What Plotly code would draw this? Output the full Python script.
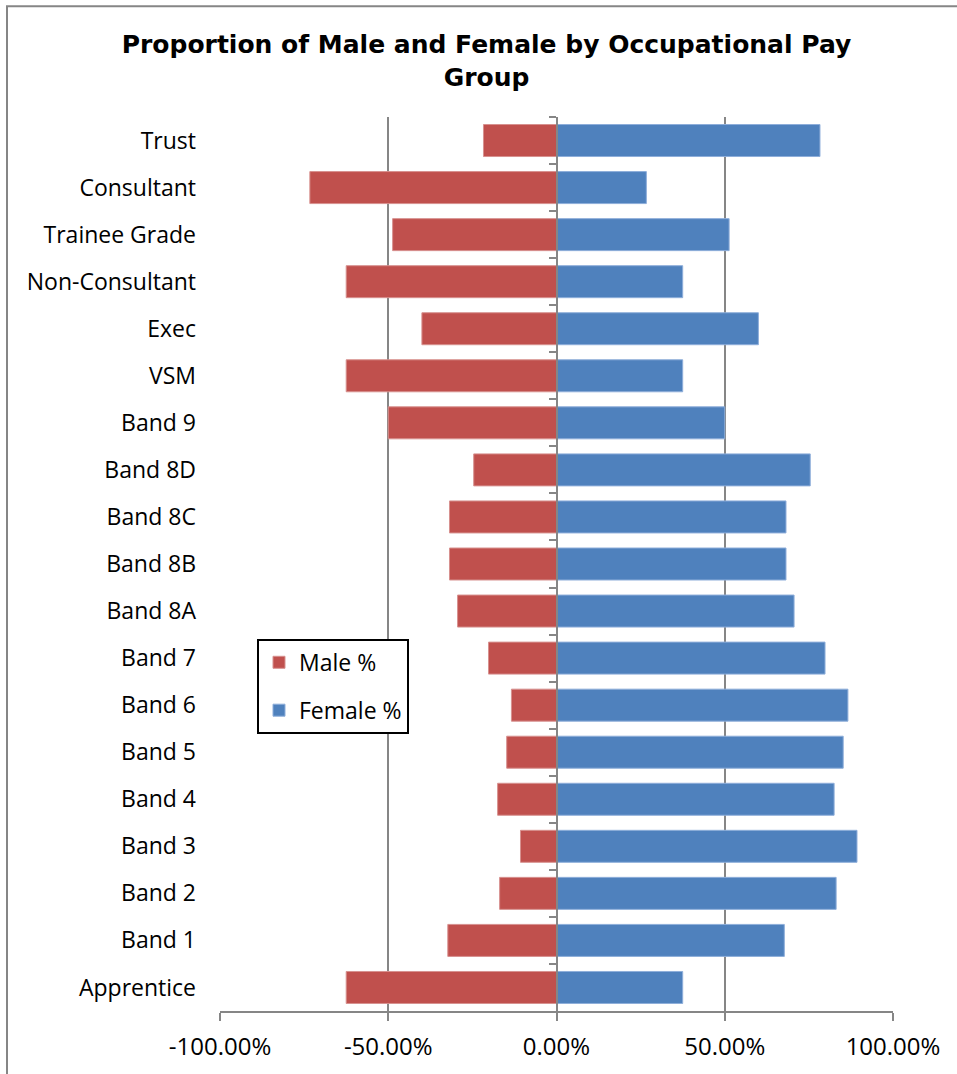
import plotly.graph_objects as go

categories = ["Trust", "Consultant", "Trainee Grade", "Non-Consultant", "Exec", "VSM",
              "Band 9", "Band 8D", "Band 8C", "Band 8B", "Band 8A", "Band 7", "Band 6",
              "Band 5", "Band 4", "Band 3", "Band 2", "Band 1", "Apprentice"]
male_pct = [21.7, 73.3, 48.7, 62.5, 40.0, 62.5, 50.0, 24.6, 31.8, 31.8, 29.4, 20.2, 13.4,
            14.8, 17.5, 10.7, 16.9, 32.3, 62.5]
female_pct = [78.3, 26.7, 51.3, 37.5, 60.0, 37.5, 50.0, 75.4, 68.2, 68.2, 70.6, 79.8, 86.6,
              85.2, 82.5, 89.3, 83.1, 67.7, 37.5]
x_tick_vals = [-100, -50, 0, 50, 100]
x_tick_text = ["-100.00%", "-50.00%", "0.00%", "50.00%", "100.00%"]

RED = "#C0504D"
BLUE = "#4F81BD"
GRID = "#868686"
W, H = 957, 1074
ML, MR, MT, MB = 220, 64, 117, 61
LABEL_FONT = "Open Sans"

fig = go.Figure()
fig.add_trace(go.Bar(
    y=categories, x=[-v for v in male_pct], orientation="h", name="Male %",
    marker=dict(color=RED, line=dict(color="#D7918F", width=1)),
    legendgroup="m", yaxis="y",
))
fig.add_trace(go.Bar(
    y=categories, x=female_pct, orientation="h", name="Female %",
    marker=dict(color=BLUE, line=dict(color="#8EAEDA", width=1)),
    legendgroup="f", yaxis="y2",
))

pw = W - ML - MR
ph = H - MT - MB
fig.update_layout(
    width=W, height=H,
    margin=dict(l=ML, r=MR, t=MT, b=MB),
    paper_bgcolor="white", plot_bgcolor="white",
    barmode="relative", bargap=0.32,
    font=dict(family=LABEL_FONT, size=22, color="black"),
    title=dict(
        text="Proportion of Male and Female by Occupational Pay<br>Group",
        font=dict(family="DejaVu Sans", size=25, color="black", weight="bold"),
        x=486.5 / W, xanchor="center", xref="container",
        y=1 - 53 / H, yanchor="top", yref="container",
    ),
    xaxis=dict(
        range=[-100, 100], tickvals=x_tick_vals, ticktext=x_tick_text,
        showgrid=True, gridcolor=GRID, gridwidth=1.5, zeroline=False,
        showline=True, linecolor=GRID, linewidth=2,
        ticks="outside", ticklen=8, tickcolor=GRID, tickwidth=2,
        ticklabelstandoff=5,
        tickfont=dict(family=LABEL_FONT, size=24), fixedrange=True,
    ),
    yaxis=dict(
        type="category", categoryorder="array", categoryarray=categories,
        range=[18.5, -0.5], showgrid=False, zeroline=False, showline=False,
        ticks="", ticklabelstandoff=23,
        tickfont=dict(family=LABEL_FONT, size=23),
    ),
    yaxis2=dict(
        type="category", categoryorder="array", categoryarray=categories,
        range=[18.5, -0.5], overlaying="y", anchor="free", position=0.5,
        side="left", showgrid=False, zeroline=False,
        showline=True, linecolor=GRID, linewidth=2,
        ticks="outside", tickson="boundaries", ticklen=7, tickcolor=GRID, tickwidth=2,
        showticklabels=False,
    ),
    legend=dict(
        x=(257 - ML) / pw, y=(H - MB - 640) / ph, xanchor="left", yanchor="top",
        bgcolor="white", bordercolor="black", borderwidth=2,
        font=dict(family=LABEL_FONT, size=23), traceorder="grouped", tracegroupgap=15,
        itemwidth=30,
    ),
    showlegend=True,
    shapes=[dict(
        type="rect", xref="paper", yref="paper",
        x0=(7 - ML) / pw, x1=(W + 10 - ML) / pw,
        y0=(H - MB - (H + 10)) / ph, y1=(H - MB - 6) / ph,
        line=dict(color=GRID, width=2), fillcolor="rgba(0,0,0,0)", layer="below",
    )],
)

fig.write_html("out.html")
